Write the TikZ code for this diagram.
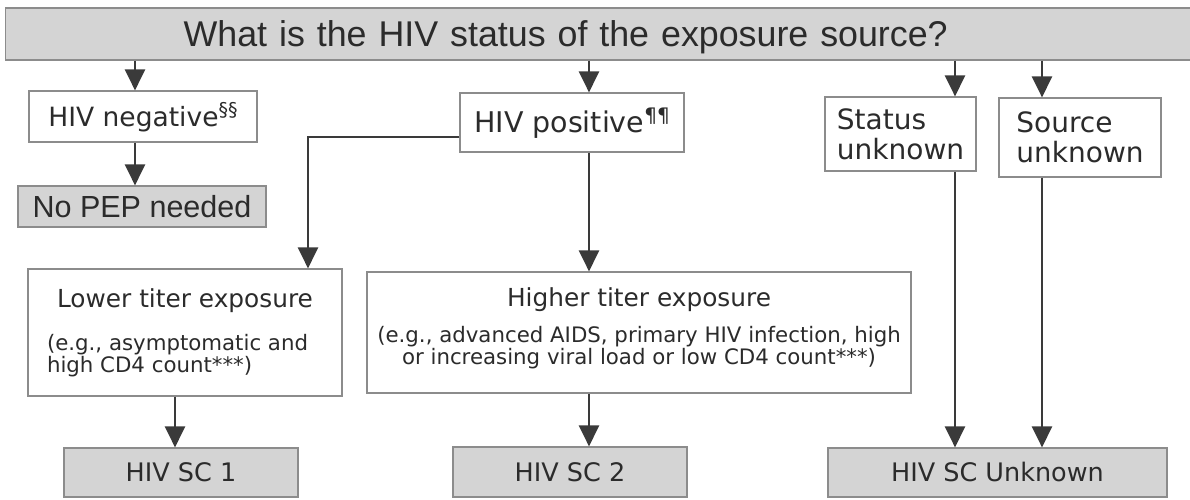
\documentclass[tikz,border=0pt]{standalone}
\usepackage{fontspec}
\setmainfont{DejaVu Sans}
\newfontfamily\arialf{Liberation Sans}
\usetikzlibrary{arrows.meta}
\definecolor{ink}{HTML}{2B2B2B}
\definecolor{edge}{HTML}{8C8C8C}
\definecolor{shade}{HTML}{D4D4D4}
\definecolor{wirec}{HTML}{3A3A3A}
\begin{document}
\begin{tikzpicture}[x=1pt,y=-1pt,
  wbox/.style={draw=edge, line width=1.2pt, fill=white, inner sep=0pt, text=ink},
  gbox/.style={draw=edge, line width=1.2pt, fill=shade, inner sep=0pt, text=ink},
  arr/.style={draw=wirec, line width=2.6pt, -{Triangle[length=21pt,width=20pt]}},
  lbl/.style={font=\fontsize{25.5}{28}\selectfont, text height=18.6pt, text depth=0pt}]
\useasboundingbox (0,0) rectangle (1190,499);

% top question bar
\node[gbox, anchor=west, minimum width=1190pt, minimum height=52pt,
      inner xsep=178pt, text width=834pt, align=left,
      font=\arialf\fontsize{35.8}{40}\selectfont, text height=25.6pt, text depth=0pt]
      (q) at (5,34) {What is the HIV status of the exposure source?};

% second row
\node[wbox, minimum width=228pt, minimum height=51pt,
      font=\fontsize{26.5}{30}\selectfont, text height=19.3pt, text depth=0pt]
      (neg) at (143,116.5) {HIV negative\raisebox{.36em}{\fontsize{19}{19}\selectfont §§}};
\node[gbox, minimum width=248pt, minimum height=41pt,
      font=\arialf\fontsize{30.5}{34}\selectfont, text height=21.8pt, text depth=0pt]
      (nopep) at (142,206.5) {No PEP needed};
\node[wbox, minimum width=224pt, minimum height=59pt,
      font=\fontsize{28.5}{32}\selectfont, text height=20.8pt, text depth=0pt]
      (pos) at (572,122.5) {HIV positive\raisebox{.36em}{\fontsize{20}{20}\selectfont ¶¶}};
\node[wbox, minimum width=151pt, minimum height=74pt,
      font=\fontsize{28}{30}\selectfont, align=left]
      (stat) at (900.5,134) {Status\\unknown};
\node[wbox, minimum width=162pt, minimum height=79pt,
      font=\fontsize{28}{30}\selectfont, align=left]
      (src) at (1080,137.5) {Source\\unknown};

% exposure boxes
\node[wbox, minimum width=314pt, minimum height=127pt] (low) at (185,332.5)
  {\begin{minipage}{276pt}\centering\fontsize{24.8}{25}\selectfont Lower titer exposure\par
   \vspace{21pt}\raggedright\fontsize{21.3}{19}\selectfont (e.g., asymptomatic and\\high CD4 count***)\end{minipage}};
\node[wbox, minimum width=544pt, minimum height=121pt] (hig) at (639,332.5)
  {\begin{minipage}{540pt}\centering\fontsize{24.8}{25}\selectfont Higher titer exposure\par
   \vspace{13.5pt}\fontsize{21.3}{18.5}\selectfont (e.g., advanced AIDS, primary HIV infection, high\\or increasing viral load or low CD4 count***)\rule[-13pt]{0pt}{1pt}\end{minipage}};

% outcome boxes
\node[gbox, lbl, minimum width=234pt, minimum height=49pt] (sc1) at (181,472.5) {HIV SC 1};
\node[gbox, lbl, minimum width=234pt, minimum height=50pt] (sc2) at (570,472) {HIV SC 2};
\node[gbox, lbl, minimum width=339pt, minimum height=49pt] (scu) at (997.5,472.5) {HIV SC Unknown};

% columns for connectors
\coordinate (ca) at (135,0);
\coordinate (cb) at (589,0);
\coordinate (cc) at (955,0);
\coordinate (cd) at (1042,0);
\coordinate (cg) at (175,0);
\coordinate (turn) at (308,137);

\draw[arr] (ca |- q.south) -- (ca |- neg.north);
\draw[arr] (ca |- neg.south) -- (ca |- nopep.north);
\draw[arr] (cb |- q.south) -- (cb |- pos.north);
\draw[arr] (cc |- q.south) -- (cc |- stat.north);
\draw[arr] (cd |- q.south) -- (cd |- src.north);
\draw[arr] (pos.west |- turn) -- (turn) -- (turn |- low.north);
\draw[arr] (cb |- pos.south) -- (cb |- hig.north);
\draw[arr] (cg |- low.south) -- (cg |- sc1.north);
\draw[arr] (cb |- hig.south) -- (cb |- sc2.north);
\draw[arr] (cc |- stat.south) -- (cc |- scu.north);
\draw[arr] (cd |- src.south) -- (cd |- scu.north);
\end{tikzpicture}
\end{document}
